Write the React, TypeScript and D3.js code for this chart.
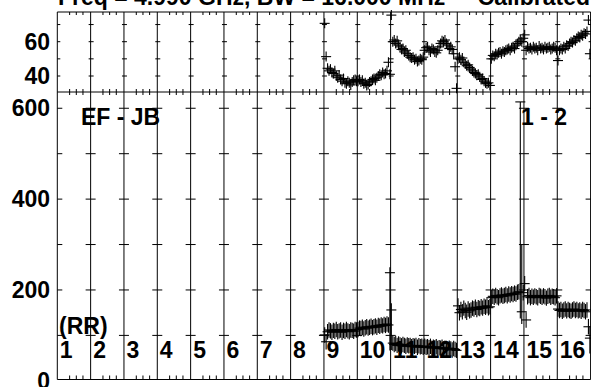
import React from "react";
import * as d3 from "d3";

const W = 591;
const H = 387;

const segments = [1, 2, 3, 4, 5, 6, 7, 8, 9, 10, 11, 12, 13, 14, 15, 16];
const segLabels = ["1", "2", "3", "4", "5", "6", "7", "8", "9", "10", "11", "12", "13", "14", "15", "16"];
const minorFracs = [0.37, 0.57, 0.77];
const topTicks = [40, 60];
const topMinor = [40, 50, 60, 70];
const botTicks = [0, 200, 400, 600];
const botMinor = [100, 200, 300, 400, 500, 600];

// Top panel (per segment 9..16)
const topSeg9 = [70.7, 51.3, 44.5, 43, 44, 42, 41.5, 43, 40, 39, 40.5, 38, 37, 38.5, 36, 35.5, 37, 36, 34.8, 36.5, 37.5, 38, 37];
const topSeg10 = [37, 38, 36.5, 37.5, 35.5, 36, 34.5, 35, 36.5, 37, 38, 38.5, 37.5, 39, 40, 41, 40.5, 42, 41, 41.5, 43, 48, 41];
const topSeg11 = [75.5, 60, 61, 59, 60.5, 58, 57, 55.5, 56, 54, 55, 53, 52, 51, 50.5, 51, 49.5, 50, 48.5, 49, 50, 49.5, 51];
const topSeg12 = [55, 56.5, 57, 55, 54, 56, 55.5, 54, 53.5, 55, 57, 59, 60.5, 60, 61, 59, 58, 56, 57, 55.5, 53, 45.4, 32.8];
const topSeg13 = [50, 51, 49.5, 50.5, 48, 47, 46, 46.5, 45, 44, 43, 42, 41.5, 40.5, 41, 39.5, 38, 38.5, 37, 36, 35.5, 36, 34.5];
const topSeg14 = [50, 52, 51.5, 53, 52.5, 53.5, 54, 53, 54.5, 54, 55, 55.5, 56, 55, 56.5, 57, 56, 58, 59, 60, 61, 60, 62];
const topSeg15 = [64, 55, 57, 56, 56.5, 55.5, 57, 56, 56.5, 55, 57.5, 56, 56.5, 55.5, 57, 56, 56.5, 57, 55.5, 56, 57, 56.5, 55];
const topSeg16 = [49, 55, 56, 55.5, 57, 56, 58, 57.5, 59, 60, 59.5, 61, 60.5, 62, 63, 62.5, 64, 63.5, 65, 64.5, 66, 72.6, 53];

// Bottom panel (per segment 9..16)
const botSeg9 = [101, 86, 108, 112, 110, 107, 111, 109, 113, 108, 110, 112, 107, 111, 109, 113, 110, 108, 112, 111, 109, 113, 112];
const botSeg10 = [113, 116, 115, 118, 114, 117, 119, 116, 118, 120, 117, 119, 121, 118, 122, 120, 123, 121, 124, 122, 125, 123, 238];
const botSeg11 = [156, 83, 80, 82, 78, 81, 79, 77, 80, 78, 76, 79, 77, 78, 75, 77, 76, 78, 74, 77, 75, 76, 74];
const botSeg12 = [76, 74, 75, 73, 76, 72, 74, 73, 75, 71, 73, 72, 74, 70, 72, 71, 69, 72, 70, 68, 71, 69, 67];
const botSeg13 = [165, 150, 157, 152, 160, 155, 151, 158, 154, 156, 160, 158, 162, 157, 161, 159, 163, 160, 164, 162, 165, 161, 163];
const botSeg14 = [183, 186, 184, 188, 185, 183, 187, 189, 186, 188, 190, 187, 191, 189, 192, 190, 193, 191, 195, 196, 614, 152, 194];
const botSeg15 = [214, 134, 185, 188, 183, 186, 184, 187, 185, 183, 188, 186, 184, 187, 185, 182, 186, 188, 184, 186, 185, 183, 187];
const botSeg16 = [158, 155, 157, 153, 156, 158, 154, 157, 155, 153, 156, 158, 155, 157, 154, 156, 153, 157, 155, 152, 156, 119, 94];

// special error bars [segment, index, low, high]
const botErrSpecial: [number, number, number, number][] = [
  [10, 22, 67, 250],
  [11, 0, 68, 171],
  [14, 20, 137, 614],
  [14, 21, 125, 300],
  [16, 22, 60, 120],
];

const topData: [number, number[]][] = [
  [9, topSeg9], [10, topSeg10], [11, topSeg11], [12, topSeg12],
  [13, topSeg13], [14, topSeg14], [15, topSeg15], [16, topSeg16],
];
const botData: [number, number[]][] = [
  [9, botSeg9], [10, botSeg10], [11, botSeg11], [12, botSeg12],
  [13, botSeg13], [14, botSeg14], [15, botSeg15], [16, botSeg16],
];

const FONT = "'Liberation Sans', Arial, sans-serif";
const FS = 23;

export default function App() {
  const x = d3.scaleLinear().domain([1, 17]).range([57.3, 590.6]);
  const yTop = d3.scaleLinear().domain([30.67, 77.32]).range([92, 12]);
  const yBot = d3.scaleLinear().domain([2.9, 635.8]).range([379.5, 92]);

  const topPts: { x: number; y: number }[] = [];
  topData.forEach(([s, vals]) => {
    vals.forEach((v, i) => topPts.push({ x: x(s + (i + 0.5) / vals.length), y: yTop(v) }));
  });
  const botPts: { x: number; y: number; lo: number; hi: number }[] = [];
  botData.forEach(([s, vals]) => {
    vals.forEach((v, i) => {
      const sp = botErrSpecial.find((e) => e[0] === s && e[1] === i);
      const lo = sp ? sp[2] : v - 17;
      const hi = sp ? sp[3] : v + 17;
      botPts.push({ x: x(s + (i + 0.5) / vals.length), y: yBot(v), lo: yBot(lo), hi: yBot(hi) });
    });
  });

  const boundaries = d3.range(1, 18);
  const yT = 12, yM = 92, yB = 379.5;

  return (
    <svg width={W} height={H} style={{ position: "absolute", left: 0, top: 0, background: "#fff" }}>
      <rect width={W} height={H} fill="#fff" />
      {/* title */}
      <text x={58} y={4.5} fontFamily={FONT} fontWeight="bold" fontSize={FS} fill="#000">
        Freq = 4.990 GHz, BW = 16.000 MHz
      </text>
      <text x={590} y={4.5} textAnchor="end" fontFamily={FONT} fontWeight="bold" fontSize={FS} fill="#000">
        Calibrated
      </text>

      {/* vertical lines */}
      {boundaries.map((b) => (
        <line key={"v" + b} x1={x(b)} x2={x(b)} y1={yT} y2={yB} stroke="#000" strokeWidth={1} />
      ))}
      {/* horizontal borders */}
      <line x1={x(1)} x2={x(17)} y1={yT} y2={yT} stroke="#000" />
      <line x1={x(1)} x2={x(17)} y1={yM} y2={yM} stroke="#000" />
      <line x1={x(1)} x2={x(17)} y1={yB} y2={yB} stroke="#000" />

      {/* minor ticks on horizontal axes */}
      {segments.map((s) =>
        minorFracs.map((f, j) => {
          const xx = x(s + f);
          return (
            <g key={"m" + s + "-" + j} stroke="#000">
              <line x1={xx} x2={xx} y1={yT} y2={yT + 3} />
              <line x1={xx} x2={xx} y1={yM - 3} y2={yM + 3} />
              <line x1={xx} x2={xx} y1={yB} y2={yB - 4} />
            </g>
          );
        })
      )}

      {/* top panel ticks on grid lines */}
      {boundaries.map((b) =>
        topMinor.map((v) => (
          <line key={"tt" + b + "-" + v} x1={x(b) - (b === 1 ? 0 : 2)} x2={x(b) + 3} y1={yTop(v)} y2={yTop(v)} stroke="#000" />
        ))
      )}
      {/* bottom panel dashes */}
      {boundaries.map((b) =>
        botMinor.map((v) => (
          <line key={"bt" + b + "-" + v} x1={x(b) - (b === 1 ? 0 : 5)} x2={x(b) + 5} y1={yBot(v)} y2={yBot(v)} stroke="#000" />
        ))
      )}

      {/* y tick labels */}
      {topTicks.map((v) => (
        <text key={"tl" + v} x={50} y={yTop(v) + 8} textAnchor="end" fontFamily={FONT} fontWeight="bold" fontSize={FS}>
          {v}
        </text>
      ))}
      {botTicks.map((v) => (
        <text key={"bl" + v} x={50} y={yBot(v) + 8} textAnchor="end" fontFamily={FONT} fontWeight="bold" fontSize={FS}>
          {v}
        </text>
      ))}

      {/* segment labels */}
      {segments.map((s, i) => (
        <text key={"sl" + s} x={x(s) + 2.5} y={358} fontFamily={FONT} fontWeight="bold" fontSize={FS}>
          {segLabels[i]}
        </text>
      ))}
      <text x={59} y={334} fontFamily={FONT} fontWeight="bold" fontSize={FS}>(RR)</text>
      <text x={81} y={125} fontFamily={FONT} fontWeight="bold" fontSize={FS}>EF - JB</text>
      <text x={521} y={125} fontFamily={FONT} fontWeight="bold" fontSize={FS}>1 - 2</text>

      {/* top panel data */}
      <g stroke="#000" strokeWidth={1.1}>
        {topPts.map((p, i) => (
          <g key={"tp" + i}>
            <line x1={p.x - 5} x2={p.x + 5} y1={p.y} y2={p.y} />
            <line x1={p.x} x2={p.x} y1={p.y - 5} y2={p.y + 5} />
          </g>
        ))}
      </g>
      {/* bottom panel data */}
      <g stroke="#000" strokeWidth={1.1}>
        {botPts.map((p, i) => (
          <g key={"bp" + i}>
            <line x1={p.x - 5} x2={p.x + 5} y1={p.y} y2={p.y} />
            <line x1={p.x} x2={p.x} y1={p.hi} y2={p.lo} />
          </g>
        ))}
      </g>
    </svg>
  );
}
